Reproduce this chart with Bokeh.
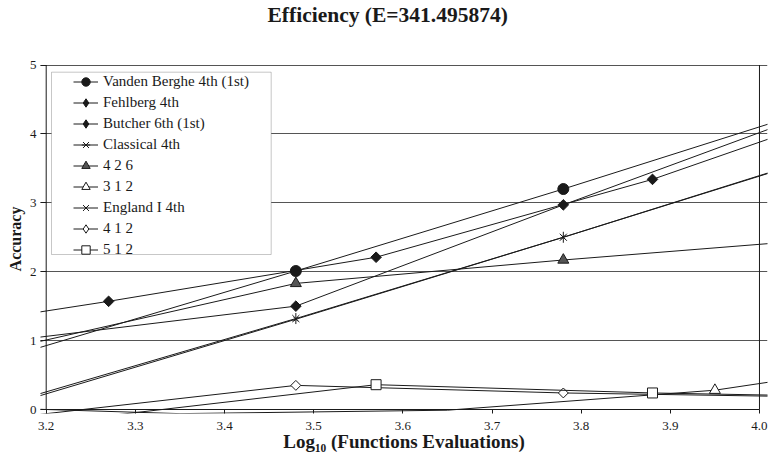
import numpy as np
from bokeh.plotting import figure
from bokeh.models import (Range1d, FixedTicker, PrintfTickFormatter, Legend, LegendItem, Title,
                          ColumnDataSource, CDSView, BooleanFilter, BoxAnnotation)
from bokeh.embed import file_html
from bokeh.resources import INLINE

# ---------------- data ----------------
title_text = "Efficiency (E=341.495874)"
y_label = "Accuracy"
x_label = "Log\u2081\u2080 (Functions Evaluations)"
x_ticks = [3.2, 3.3, 3.4, 3.5, 3.6, 3.7, 3.8, 3.9, 4.0]
y_ticks = [0, 1, 2, 3, 4, 5]

vb_x = [3.18, 3.48, 3.78, 4.08]
vb_y = [0.85, 2.01, 3.20, 4.43]

fe_x = [3.18, 3.48, 3.78, 4.08]
fe_y = [1.03, 1.50, 2.97, 4.40]

bu_x = [2.97, 3.27, 3.57, 3.88, 4.18]
bu_y = [0.97, 1.57, 2.21, 3.34, 4.69]

cl_x = [3.18, 3.48, 3.78, 4.08]
cl_y = [0.18, 1.32, 2.50, 3.72]

t426_x = [3.18, 3.48, 3.78, 4.08]
t426_y = [0.95, 1.83, 2.17, 2.48]

t312_x = [3.05, 3.35, 3.65, 3.95, 4.25]
t312_y = [0.06, -0.06, -0.01, 0.28, 0.86]

en_x = [3.18, 3.48, 3.78, 4.08]
en_y = [0.15, 1.31, 2.50, 3.71]

d412_x = [3.18, 3.48, 3.78, 4.08]
d412_y = [-0.09, 0.35, 0.24, 0.18]

s512_x = [3.27, 3.57, 3.88, 4.18]
s512_y = [-0.09, 0.36, 0.24, 0.17]

# ---------------- layout constants ----------------
FIG_W, FIG_H = 772, 457
BL, BR, BT, BB = 40, 5, 64, 44
AX_X0, AX_X1, AX_Y0, AX_Y1 = 3.2, 4.0, 0.0, 5.0
FRAME_W = FIG_W - BL - BR
FRAME_H = FIG_H - BT - BB
PPX = 891.6
X0 = AX_X0 - 5.7 / PPX
X1 = X0 + FRAME_W / PPX
PPY = 68.9
Y0 = AX_Y0 - 4.0 / PPY
Y1 = Y0 + FRAME_H / PPY

SERIF = "Liberation Serif"
INK = "#1a1a1a"

p = figure(width=FIG_W, height=FIG_H, x_range=Range1d(X0, X1), y_range=Range1d(Y0, Y1),
           output_backend="svg", toolbar_location=None,
           min_border_left=BL, min_border_right=BR, min_border_top=BT, min_border_bottom=BB)
p.outline_line_color = None
p.background_fill_color = "white"

# real title (outermost) and an empty spacer title between it and the frame
p.title.text = title_text
p.title.text_font = SERIF
p.title.text_font_style = "bold"
p.title.text_font_size = "21.5px"
p.title.text_color = INK
p.title.align = "left"
p.title.offset = 227
p.title.standoff = 0
p.add_layout(Title(text=" ", text_font_size="20px", standoff=14), "above")

# grid
p.xgrid.visible = False
p.ygrid.ticker = FixedTicker(ticks=[1, 2, 3, 4, 5])
p.ygrid.grid_line_color = "#555555"
p.ygrid.grid_line_width = 1

# axes
for ax in (p.xaxis[0], p.yaxis[0]):
    ax.axis_line_color = None
    ax.major_tick_out = 0
    ax.minor_tick_line_color = None
    ax.major_tick_line_color = INK
    ax.major_label_text_font = SERIF
    ax.major_label_text_font_size = "13px"
    ax.major_label_text_color = INK
    ax.axis_label_text_font = SERIF
    ax.axis_label_text_font_style = "bold"
    ax.axis_label_text_color = INK
p.xaxis[0].ticker = FixedTicker(ticks=x_ticks)
p.xaxis[0].formatter = PrintfTickFormatter(format="%.1f")
p.xaxis[0].major_tick_in = 4
p.xaxis[0].major_label_standoff = 8
p.xaxis[0].axis_label = x_label
p.xaxis[0].axis_label_text_font_size = "19px"
p.xaxis[0].axis_label_standoff = -2
p.yaxis[0].ticker = FixedTicker(ticks=y_ticks)
p.yaxis[0].formatter = PrintfTickFormatter(format="%d")
p.yaxis[0].major_tick_in = 6
p.yaxis[0].major_label_standoff = 4
p.yaxis[0].axis_label = y_label
p.yaxis[0].axis_label_text_font_size = "16px"
p.yaxis[0].axis_label_standoff = 3

# axis lines / border (Excel-like box)
p.segment(x0=[AX_X0, AX_X0, AX_X1], y0=[AX_Y0, AX_Y0, AX_Y0],
          x1=[AX_X1, AX_X0, AX_X1], y1=[AX_Y0, AX_Y1, AX_Y1],
          line_color=INK, line_width=1)

series = [
    dict(name="Vanden Berghe 4th (1st)", x=vb_x, y=vb_y, marker="circle", angle=0.0, size=11, fill=INK),
    dict(name="Fehlberg 4th", x=fe_x, y=fe_y, marker="square", angle=np.pi / 4, size=7.5, fill=INK,
         leg_marker="diamond", leg_size=11),
    dict(name="Butcher 6th (1st)", x=bu_x, y=bu_y, marker="square", angle=np.pi / 4, size=7.5, fill=INK,
         leg_marker="diamond", leg_size=11),
    dict(name="Classical 4th", x=cl_x, y=cl_y, marker="x", angle=0.0, size=10, fill=None),
    dict(name="4 2 6", x=t426_x, y=t426_y, marker="triangle", angle=0.0, size=11, fill="#555555"),
    dict(name="3 1 2", x=t312_x, y=t312_y, marker="triangle", angle=0.0, size=11, fill="white"),
    dict(name="England I 4th", x=en_x, y=en_y, marker="x", angle=0.0, size=6, fill=None),
    dict(name="4 1 2", x=d412_x, y=d412_y, marker="square", angle=np.pi / 4, size=7, fill="white",
         leg_marker="diamond", leg_size=11),
    dict(name="5 1 2", x=s512_x, y=s512_y, marker="square", angle=0.0, size=10, fill="white"),
]

items = []
for s in series:
    src = ColumnDataSource(dict(x=s["x"], y=s["y"]))
    inside = [(AX_X0 <= xv <= AX_X1) and (AX_Y0 <= yv <= AX_Y1) for xv, yv in zip(s["x"], s["y"])]
    view = CDSView(filter=BooleanFilter(inside))
    lr = p.line("x", "y", source=src, line_color=INK, line_width=1)
    rs = [lr]
    fill = s["fill"] if s["fill"] is not None else "white"
    mr = p.scatter("x", "y", source=src, view=view, marker=s["marker"], size=s["size"], angle=s["angle"],
                   fill_color=fill, line_color=INK, line_width=1)
    if "leg_marker" in s:
        hidden = p.scatter("x", "y", source=src, view=view, marker=s["leg_marker"], size=s["leg_size"],
                           fill_color=fill, line_color=INK, line_width=1, visible=False)
        rs.append(hidden)
    else:
        rs.append(mr)
    if s["name"] == "Classical 4th":
        vr = p.scatter("x", "y", source=src, view=view, marker="dash", size=11, angle=np.pi / 2,
                       line_color=INK, line_width=1)
        rs.append(vr)
    items.append(LegendItem(label=s["name"], renderers=rs))

# legend frame (Excel-style box)
lx0 = AX_X0 + (51 - 45.7) / PPX
lx1 = AX_X0 + (270.7 - 45.7) / PPX
ly1 = (409 - 71.7) / PPY
ly0 = (409 - 254) / PPY
box = BoxAnnotation(left=lx0, right=lx1, bottom=ly0, top=ly1, fill_color="white", fill_alpha=1.0,
                    line_color="#444444", line_width=1)
p.add_layout(box)

legend = Legend(items=items, location=(33, 153), padding=0, margin=0, spacing=0,
                glyph_width=25, glyph_height=21, label_height=21, label_standoff=5,
                label_text_font=SERIF, label_text_font_size="15px", label_text_color=INK,
                border_line_color=None, background_fill_alpha=0.0, inactive_fill_alpha=0.0)
p.add_layout(legend)

open("out.html", "w").write(file_html(p, INLINE))
